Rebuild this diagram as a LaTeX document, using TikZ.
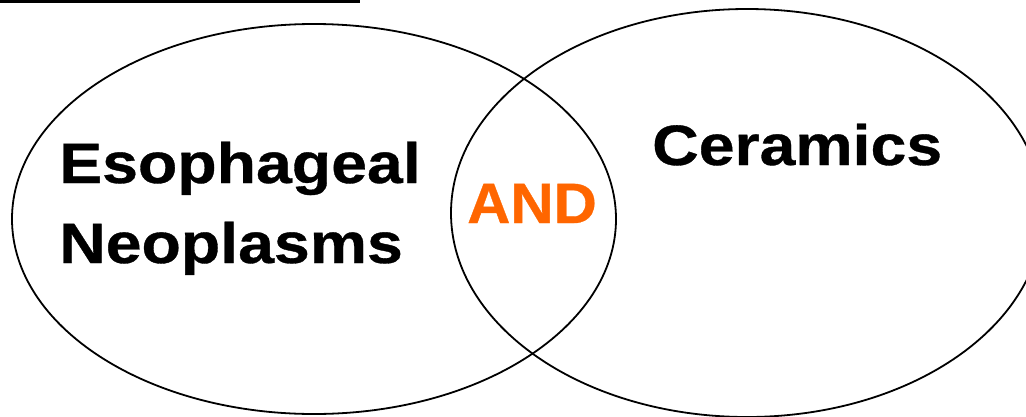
\documentclass[tikz,border=0pt]{standalone}
\usepackage{fontspec}
\usetikzlibrary{shapes.geometric}
\usepackage{xcolor}
\newfontfamily\termfont[FakeStretch=1.13, FakeBold=0.6]{Liberation Sans}
\newfontfamily\opfont[FakeStretch=1.05, FakeBold=0.6]{Liberation Sans}
\definecolor{andorange}{HTML}{FF6600}

\begin{document}
\begin{tikzpicture}[x=1pt, y=-1pt, set/.style = {draw, ellipse, line width=1.8pt, inner sep=0pt}, term/.style = {inner sep=0pt, anchor=base west, align=left, font=\termfont\bfseries\fontsize{57}{80}\selectfont}]
  \useasboundingbox (0,0) rectangle (1026,416);
  \node[set, minimum width=604pt, minimum height=390pt] (neo) at (314,219) {};
  \node[set, minimum width=592pt, minimum height=408pt] (cer) at (747,213) {};
  \coordinate (bar1) at (0,1.6);
  \coordinate (bar2) at (360,1.6);
  \draw[line width=3.3pt] (bar1) -- (bar2);
  % base anchor sits on the last line
  \node[term] (eso) at (59,263) {Esophageal\\Neoplasms};
  \node[term] (cera) at (652,165) {Ceramics};
  \node[inner sep=0pt, anchor=base west, text=andorange, font=\opfont\bfseries\fontsize{57}{80}\selectfont] (and) at (467,223) {AND};
\end{tikzpicture}
\end{document}
